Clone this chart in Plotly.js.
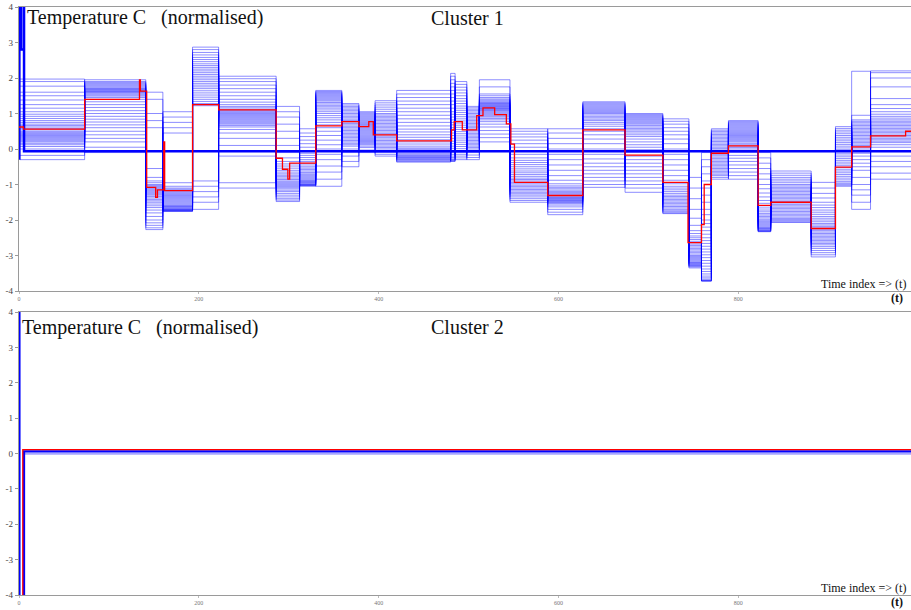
<!DOCTYPE html>
<html>
<head>
<meta charset="utf-8">
<script src="https://cdn.plot.ly/plotly-3.0.1.min.js"></script>
<style>
html,body{margin:0;padding:0;background:#fff;}
#chart{width:911px;height:610px;}
</style>
</head>
<body>
<div id="chart"></div>
<script>
// ---------------- DATA ----------------
var xTicks = [0, 200, 400, 600, 800];
var yTicks = [-4, -3, -2, -1, 0, 1, 2, 3, 4];

// Cluster 1: start time of each segment of the member step series (end at tEnd)
var segStart = [1, 73, 141, 160, 193, 222, 286, 312, 330, 359, 378, 396, 420, 480, 485, 498,
                512, 546, 588, 627, 674, 716, 745, 759, 770, 789, 822, 836, 881, 908, 926, 947];
var tEnd = 992;

// Cluster 1: member levels read in each segment (high to low)
var bundleLevels = [
  [1.97, 1.9, 1.77, 1.6, 1.5, 1.38, 1.25, 1.15, 1.05, 0.98, 0.92, 0.86, 0.8, 0.75, 0.7, 0.66, 0.62, 0.58, 0.54, 0.5, 0.47, 0.44, 0.41, 0.38, 0.35, 0.32, 0.29, 0.26, 0.23, 0.2, 0.16, 0.12, 0.07, 0.0, -0.18, -0.3],
  [1.95, 1.9, 1.87, 1.84, 1.81, 1.78, 1.75, 1.72, 1.7, 1.68, 1.66, 1.64, 1.62, 1.6, 1.58, 1.55, 1.52, 1.49, 1.45, 1.4, 1.33, 1.25, 1.17, 1.08, 1.0, 0.92, 0.84, 0.76, 0.68, 0.6, 0.5, 0.4, 0.3, 0.2, 0.05, -0.1],
  [1.6, 1.4, 1.0, 0.8, 0.6, -0.55, -0.8, -0.9, -0.95, -1.0, -1.03, -1.06, -1.09, -1.12, -1.15, -1.18, -1.21, -1.24, -1.27, -1.3, -1.34, -1.38, -1.42, -1.46, -1.5, -1.55, -1.6, -1.65, -1.72, -1.8, -1.9, -2.0, -2.08, -2.15, -2.22, -2.27],
  [1.05, 0.9, 0.75, 0.6, 0.45, -0.95, -1.05, -1.1, -1.13, -1.16, -1.19, -1.22, -1.25, -1.28, -1.31, -1.34, -1.37, -1.4, -1.43, -1.46, -1.49, -1.52, -1.55, -1.58, -1.6, -1.62, -1.64, -1.66, -1.68, -1.7, -1.71, -1.72, -1.73, -1.74, -1.75, -1.76],
  [2.87, 2.8, 2.72, 2.65, 2.58, 2.52, 2.46, 2.4, 2.35, 2.3, 2.25, 2.2, 2.15, 2.1, 2.05, 2.0, 1.95, 1.9, 1.85, 1.8, 1.75, 1.7, 1.64, 1.58, 1.52, 1.46, 1.4, 1.34, 1.28, 1.22, -0.9, -1.05, -1.2, -1.35, -1.5, -1.7],
  [2.05, 1.98, 1.9, 1.8, 1.7, 1.6, 1.5, 1.4, 1.32, 1.25, 1.2, 1.16, 1.12, 1.09, 1.06, 1.03, 1.0, 0.97, 0.94, 0.91, 0.88, 0.85, 0.82, 0.79, 0.76, 0.73, 0.7, 0.66, 0.62, 0.55, 0.45, 0.3, 0.1, -0.2, -0.95, -1.1],
  [1.2, 1.05, 0.9, 0.7, 0.5, 0.3, 0.1, -0.1, -0.25, -0.35, -0.42, -0.48, -0.54, -0.6, -0.65, -0.7, -0.74, -0.78, -0.82, -0.86, -0.9, -0.93, -0.96, -0.99, -1.02, -1.05, -1.08, -1.12, -1.16, -1.2, -1.25, -1.3, -1.35, -1.4, -1.44, -1.48],
  [0.57, 0.45, 0.35, 0.25, 0.15, 0.05, -0.05, -0.12, -0.18, -0.24, -0.3, -0.35, -0.4, -0.45, -0.5, -0.54, -0.58, -0.62, -0.66, -0.7, -0.73, -0.76, -0.79, -0.82, -0.85, -0.88, -0.9, -0.92, -0.94, -0.96, -0.98, -1.0, -1.01, -1.02, -1.03, -1.05],
  [1.65, 1.62, 1.59, 1.56, 1.53, 1.5, 1.47, 1.44, 1.41, 1.38, 1.35, 1.31, 1.27, 1.23, 1.19, 1.15, 1.1, 1.05, 1.0, 0.94, 0.88, 0.82, 0.75, 0.68, 0.6, 0.5, 0.38, 0.25, 0.12, 0.0, -0.15, -0.3, -0.48, -0.65, -0.85, -1.05],
  [1.28, 1.24, 1.2, 1.16, 1.12, 1.08, 1.04, 1.0, 0.96, 0.92, 0.88, 0.84, 0.8, 0.76, 0.72, 0.68, 0.64, 0.6, 0.56, 0.52, 0.48, 0.44, 0.4, 0.36, 0.32, 0.28, 0.24, 0.2, 0.16, 0.12, 0.08, 0.0, -0.1, -0.2, -0.35, -0.5],
  [1.05, 1.02, 0.99, 0.96, 0.93, 0.9, 0.87, 0.84, 0.81, 0.78, 0.75, 0.72, 0.69, 0.66, 0.63, 0.6, 0.57, 0.54, 0.51, 0.48, 0.45, 0.42, 0.39, 0.36, 0.33, 0.3, 0.27, 0.24, 0.21, 0.18, 0.15, 0.12, 0.08, 0.04, -0.03, -0.1],
  [1.36, 1.3, 1.24, 1.18, 1.12, 1.06, 1.0, 0.96, 0.92, 0.88, 0.84, 0.8, 0.76, 0.72, 0.68, 0.64, 0.6, 0.56, 0.52, 0.48, 0.44, 0.4, 0.36, 0.32, 0.28, 0.24, 0.2, 0.16, 0.12, 0.08, 0.04, 0.0, -0.05, -0.1, -0.15, -0.2],
  [1.65, 1.55, 1.45, 1.35, 1.25, 1.15, 1.05, 0.95, 0.85, 0.75, 0.65, 0.56, 0.48, 0.4, 0.33, 0.26, 0.2, 0.14, 0.08, 0.03, 0.0, -0.03, -0.06, -0.09, -0.12, -0.15, -0.18, -0.2, -0.22, -0.24, -0.26, -0.28, -0.3, -0.32, -0.35, -0.37],
  [2.13, 2.05, 1.95, 1.85, 1.75, 1.65, 1.55, 1.45, 1.35, 1.25, 1.15, 1.05, 0.98, 0.9, 0.82, 0.75, 0.68, 0.6, 0.52, 0.45, 0.38, 0.3, 0.22, 0.15, 0.08, 0.02, -0.04, -0.1, -0.15, -0.2, -0.24, -0.28, -0.3, -0.32, -0.34, -0.35],
  [1.9, 1.82, 1.74, 1.66, 1.58, 1.5, 1.42, 1.35, 1.28, 1.21, 1.15, 1.09, 1.03, 0.97, 0.91, 0.85, 0.79, 0.73, 0.67, 0.61, 0.55, 0.49, 0.43, 0.37, 0.31, 0.25, 0.19, 0.13, 0.07, 0.01, -0.05, -0.1, -0.15, -0.2, -0.25, -0.3],
  [1.2, 1.16, 1.12, 1.08, 1.04, 1.0, 0.96, 0.92, 0.88, 0.84, 0.8, 0.76, 0.72, 0.68, 0.64, 0.6, 0.56, 0.52, 0.48, 0.44, 0.4, 0.36, 0.32, 0.28, 0.24, 0.2, 0.16, 0.12, 0.08, 0.04, 0.0, -0.05, -0.1, -0.17, -0.24, -0.3],
  [1.95, 1.75, 1.55, 1.5, 1.45, 1.41, 1.38, 1.35, 1.32, 1.3, 1.28, 1.26, 1.24, 1.22, 1.2, 1.18, 1.16, 1.14, 1.12, 1.1, 1.08, 1.05, 1.02, 0.99, 0.96, 0.93, 0.9, 0.86, 0.82, 0.77, 0.7, 0.62, 0.52, 0.42, 0.32, 0.2],
  [0.57, 0.5, 0.42, 0.34, 0.25, 0.15, 0.05, -0.05, -0.15, -0.25, -0.32, -0.38, -0.44, -0.5, -0.56, -0.62, -0.67, -0.72, -0.77, -0.82, -0.86, -0.9, -0.94, -0.98, -1.02, -1.06, -1.1, -1.14, -1.18, -1.22, -1.26, -1.3, -1.35, -1.4, -1.45, -1.5],
  [0.57, 0.45, 0.3, 0.15, 0.0, -0.15, -0.3, -0.45, -0.6, -0.75, -0.88, -0.98, -1.04, -1.08, -1.12, -1.16, -1.2, -1.23, -1.26, -1.29, -1.32, -1.35, -1.37, -1.39, -1.41, -1.43, -1.45, -1.47, -1.49, -1.51, -1.54, -1.58, -1.63, -1.7, -1.78, -1.85],
  [1.33, 1.3, 1.27, 1.24, 1.21, 1.18, 1.15, 1.12, 1.09, 1.06, 1.03, 1.0, 0.96, 0.92, 0.88, 0.84, 0.8, 0.75, 0.7, 0.64, 0.57, 0.5, 0.4, 0.28, 0.15, 0.0, -0.15, -0.28, -0.4, -0.5, -0.6, -0.7, -0.8, -0.9, -1.0, -1.08],
  [1.0, 0.97, 0.94, 0.91, 0.88, 0.85, 0.82, 0.79, 0.76, 0.73, 0.7, 0.66, 0.62, 0.58, 0.54, 0.5, 0.45, 0.4, 0.35, 0.28, 0.2, 0.12, 0.05, -0.02, -0.1, -0.2, -0.3, -0.4, -0.5, -0.6, -0.7, -0.8, -0.9, -1.0, -1.1, -1.22],
  [0.85, 0.78, 0.7, 0.6, 0.5, 0.4, 0.28, 0.15, 0.0, -0.15, -0.3, -0.45, -0.6, -0.75, -0.88, -0.98, -1.05, -1.1, -1.15, -1.2, -1.25, -1.3, -1.34, -1.38, -1.42, -1.46, -1.5, -1.54, -1.58, -1.62, -1.66, -1.7, -1.74, -1.77, -1.8, -1.82],
  [-0.8, -1.1, -1.4, -1.7, -1.95, -2.15, -2.3, -2.38, -2.45, -2.5, -2.55, -2.6, -2.64, -2.68, -2.72, -2.76, -2.8, -2.84, -2.88, -2.92, -2.96, -3.0, -3.03, -3.06, -3.09, -3.12, -3.15, -3.18, -3.2, -3.22, -3.24, -3.26, -3.28, -3.3, -3.32, -3.35],
  [-0.1, -0.3, -0.5, -0.7, -0.9, -1.1, -1.3, -1.5, -1.7, -1.85, -2.0, -2.1, -2.2, -2.3, -2.4, -2.5, -2.58, -2.66, -2.74, -2.82, -2.9, -2.98, -3.06, -3.14, -3.22, -3.3, -3.38, -3.45, -3.52, -3.58, -3.63, -3.67, -3.7, -3.71, -3.72, -3.72],
  [0.57, 0.53, 0.49, 0.45, 0.41, 0.37, 0.33, 0.29, 0.25, 0.21, 0.17, 0.13, 0.09, 0.05, 0.01, -0.03, -0.07, -0.11, -0.15, -0.19, -0.23, -0.27, -0.31, -0.35, -0.39, -0.43, -0.47, -0.51, -0.55, -0.59, -0.63, -0.67, -0.71, -0.75, -0.8, -0.85],
  [0.8, 0.77, 0.74, 0.71, 0.68, 0.65, 0.62, 0.59, 0.56, 0.53, 0.5, 0.47, 0.44, 0.41, 0.38, 0.35, 0.32, 0.29, 0.26, 0.23, 0.2, 0.16, 0.12, 0.08, 0.04, 0.0, -0.05, -0.1, -0.18, -0.26, -0.35, -0.45, -0.55, -0.65, -0.75, -0.85],
  [-0.1, -0.25, -0.4, -0.55, -0.7, -0.85, -1.0, -1.12, -1.24, -1.35, -1.45, -1.53, -1.6, -1.66, -1.72, -1.77, -1.82, -1.86, -1.9, -1.94, -1.98, -2.02, -2.05, -2.08, -2.11, -2.14, -2.17, -2.2, -2.22, -2.24, -2.26, -2.28, -2.3, -2.31, -2.32, -2.33],
  [-0.62, -0.68, -0.74, -0.8, -0.85, -0.9, -0.95, -1.0, -1.04, -1.08, -1.12, -1.16, -1.2, -1.24, -1.28, -1.32, -1.36, -1.4, -1.44, -1.48, -1.52, -1.56, -1.6, -1.64, -1.68, -1.72, -1.76, -1.8, -1.84, -1.88, -1.92, -1.96, -1.99, -2.02, -2.05, -2.07],
  [-0.94, -1.1, -1.25, -1.38, -1.5, -1.58, -1.65, -1.72, -1.78, -1.84, -1.9, -1.95, -2.0, -2.05, -2.1, -2.14, -2.18, -2.22, -2.26, -2.3, -2.34, -2.38, -2.42, -2.46, -2.5, -2.54, -2.58, -2.62, -2.66, -2.7, -2.75, -2.8, -2.86, -2.92, -2.98, -3.04],
  [0.63, 0.58, 0.53, 0.48, 0.43, 0.38, 0.33, 0.28, 0.23, 0.18, 0.13, 0.08, 0.03, -0.02, -0.07, -0.12, -0.17, -0.22, -0.27, -0.32, -0.37, -0.42, -0.47, -0.52, -0.57, -0.62, -0.67, -0.72, -0.77, -0.82, -0.87, -0.92, -0.96, -0.99, -1.02, -1.05],
  [2.19, 0.95, 0.82, 0.78, 0.74, 0.7, 0.66, 0.62, 0.58, 0.54, 0.5, 0.46, 0.42, 0.38, 0.34, 0.3, 0.26, 0.22, 0.18, 0.14, 0.1, 0.05, 0.0, -0.05, -0.12, -0.2, -0.3, -0.4, -0.5, -0.6, -0.8, -1.0, -1.15, -1.3, -1.5, -1.7],
  [2.2, 2.15, 2.0, 1.75, 1.42, 1.25, 1.14, 1.05, 0.98, 0.92, 0.87, 0.82, 0.78, 0.74, 0.7, 0.66, 0.62, 0.58, 0.54, 0.5, 0.46, 0.42, 0.38, 0.34, 0.3, 0.26, 0.22, 0.18, 0.12, 0.05, -0.05, -0.2, -0.35, -0.5, -0.68, -0.85]
];

// Cluster 1 mean (red step line)
var meanT = [0, 5, 73, 134, 135, 142, 152, 154, 161, 162, 193, 222, 286, 293, 299, 301, 330, 359, 378, 389, 394, 420,
             481, 484, 493, 509, 516, 529, 542, 547, 551, 588, 627, 674, 716, 744, 759, 762, 770, 789, 822, 836, 881,
             908, 926, 947, 986, 992];
var meanV = [0.62, 0.56, 1.4, 1.95, 1.63, -1.08, -1.36, -1.15, 0.2, -1.17, 1.25, 1.1, -0.26, -0.57, -0.85, -0.4, 0.65,
             0.77, 0.63, 0.77, 0.4, 0.23, 0.54, 0.77, 0.54, 0.94, 1.16, 0.97, 0.71, 0.14, -0.94, -1.31, 0.54, -0.17,
             -0.94, -2.64, -2.13, -1.0, -0.12, 0.09, -1.59, -1.5, -2.24, -0.51, 0.06, 0.37, 0.5, 0.5];

// Cluster 1: other centroid line (thick blue)
var c1LineT = [0.4, 0.4, 2.4, 2.4, 5.6, 5.6, 5.6, 992];
var c1LineV = [-0.3, 9, 9, 2.8, 2.8, 9, -0.06, -0.06];

// Cluster 2 lines
var c2BlueT = [0.5, 0.5, 5.6, 5.6, 992];
var c2BlueV = [9, -9, -9, 0.06, 0.06];
var c2RedT = [4.2, 4.2, 992];
var c2RedV = [-9, 0.11, 0.11];
var c2MemberT = [5.6, 992];
var c2MemberV = [-0.01, -0.01];

// ---------------- BUILD ----------------
var traces = [];
var nLines = 36;
for (var i = 0; i < nLines; i++) {
  var xs = [], ys = [];
  for (var s = 0; s < segStart.length; s++) {
    var lv = bundleLevels[s];
    // alternate segments are listed in the opposite order so members cross between segments
    var r = (s % 2 === 0) ? i : (nLines - 1 - i);
    var k = Math.round(r * (lv.length - 1) / (nLines - 1));
    xs.push(segStart[s]);
    ys.push(lv[k]);
  }
  xs.push(tEnd);
  ys.push(ys[ys.length - 1]);
  traces.push({
    x: xs, y: ys, type: 'scatter', mode: 'lines', xaxis: 'x', yaxis: 'y',
    line: {shape: 'hv', width: 1, color: 'rgba(0,0,255,0.45)'},
    hoverinfo: 'skip', showlegend: false
  });
}
traces.push({x: c1LineT, y: c1LineV, type: 'scatter', mode: 'lines', xaxis: 'x', yaxis: 'y',
  line: {width: 2.5, color: '#0000ff'}, hoverinfo: 'skip', showlegend: false});
traces.push({x: meanT, y: meanV, type: 'scatter', mode: 'lines', xaxis: 'x', yaxis: 'y',
  line: {shape: 'hv', width: 1.3, color: '#ff0000'}, hoverinfo: 'skip', showlegend: false});

traces.push({x: c2MemberT, y: c2MemberV, type: 'scatter', mode: 'lines', xaxis: 'x2', yaxis: 'y2',
  line: {width: 2, color: 'rgba(0,0,255,0.35)'}, hoverinfo: 'skip', showlegend: false});
traces.push({x: c2BlueT, y: c2BlueV, type: 'scatter', mode: 'lines', xaxis: 'x2', yaxis: 'y2',
  line: {width: 2.2, color: '#0000ff'}, hoverinfo: 'skip', showlegend: false});
traces.push({x: c2RedT, y: c2RedV, type: 'scatter', mode: 'lines', xaxis: 'x2', yaxis: 'y2',
  line: {width: 1.3, color: '#ff0000'}, hoverinfo: 'skip', showlegend: false});

var W = 911, H = 610;
function px(x) { return x / W; }
function py(y) { return (H - y) / H; }

var serif = 'Liberation Serif, Times New Roman, serif';
function xAxis(anchor) {
  return {
    domain: [19 / W, 1], range: [0, 992], anchor: anchor,
    showline: true, linecolor: '#9a9a9a', linewidth: 1.2, mirror: true,
    ticks: 'outside', ticklen: 2, tickcolor: '#bbb',
    tickvals: xTicks, ticktext: xTicks.map(String),
    tickfont: {family: serif, size: 6, color: '#777'},
    showgrid: false, zeroline: false, fixedrange: true
  };
}
function yAxis(anchor, dom) {
  return {
    domain: dom, range: [-4, 4], anchor: anchor,
    showline: true, linecolor: '#9a9a9a', linewidth: 1.2,
    ticks: 'outside', ticklen: 3, tickcolor: '#9a9a9a',
    tickvals: yTicks, ticktext: yTicks.map(String),
    tickfont: {family: serif, size: 9, color: '#444'},
    showgrid: false, zeroline: false, fixedrange: true
  };
}

var titleText = 'Temperature C\u00a0\u00a0\u00a0(normalised)';
function ann(text, x, y, xanchor, size, bold) {
  return {
    text: bold ? '<b>' + text + '</b>' : text,
    xref: 'paper', yref: 'paper', x: px(x), y: py(y),
    xanchor: xanchor, yanchor: 'middle', showarrow: false,
    font: {family: serif, size: size, color: '#111'}
  };
}

var layout = {
  width: W, height: H,
  margin: {l: 0, r: 0, t: 0, b: 0},
  paper_bgcolor: '#fff', plot_bgcolor: '#fff',
  showlegend: false,
  xaxis: xAxis('y'),
  yaxis: yAxis('x', [py(291), py(7)]),
  xaxis2: xAxis('y2'),
  yaxis2: yAxis('x2', [py(595), py(312)]),
  annotations: [
    ann(titleText, 25, 18, 'left', 20, false),
    ann('Cluster 1', 429, 18, 'left', 20, false),
    ann('Time index => (t)', 908, 284, 'right', 12, false),
    ann('(t)', 905, 298, 'right', 12, true),
    ann(titleText, 20, 327, 'left', 20, false),
    ann('Cluster 2', 429, 327, 'left', 20, false),
    ann('Time index => (t)', 908, 588, 'right', 12, false),
    ann('(t)', 905, 602, 'right', 12, true)
  ]
};

Plotly.newPlot('chart', traces, layout, {displayModeBar: false, staticPlot: true});
</script>
</body>
</html>
